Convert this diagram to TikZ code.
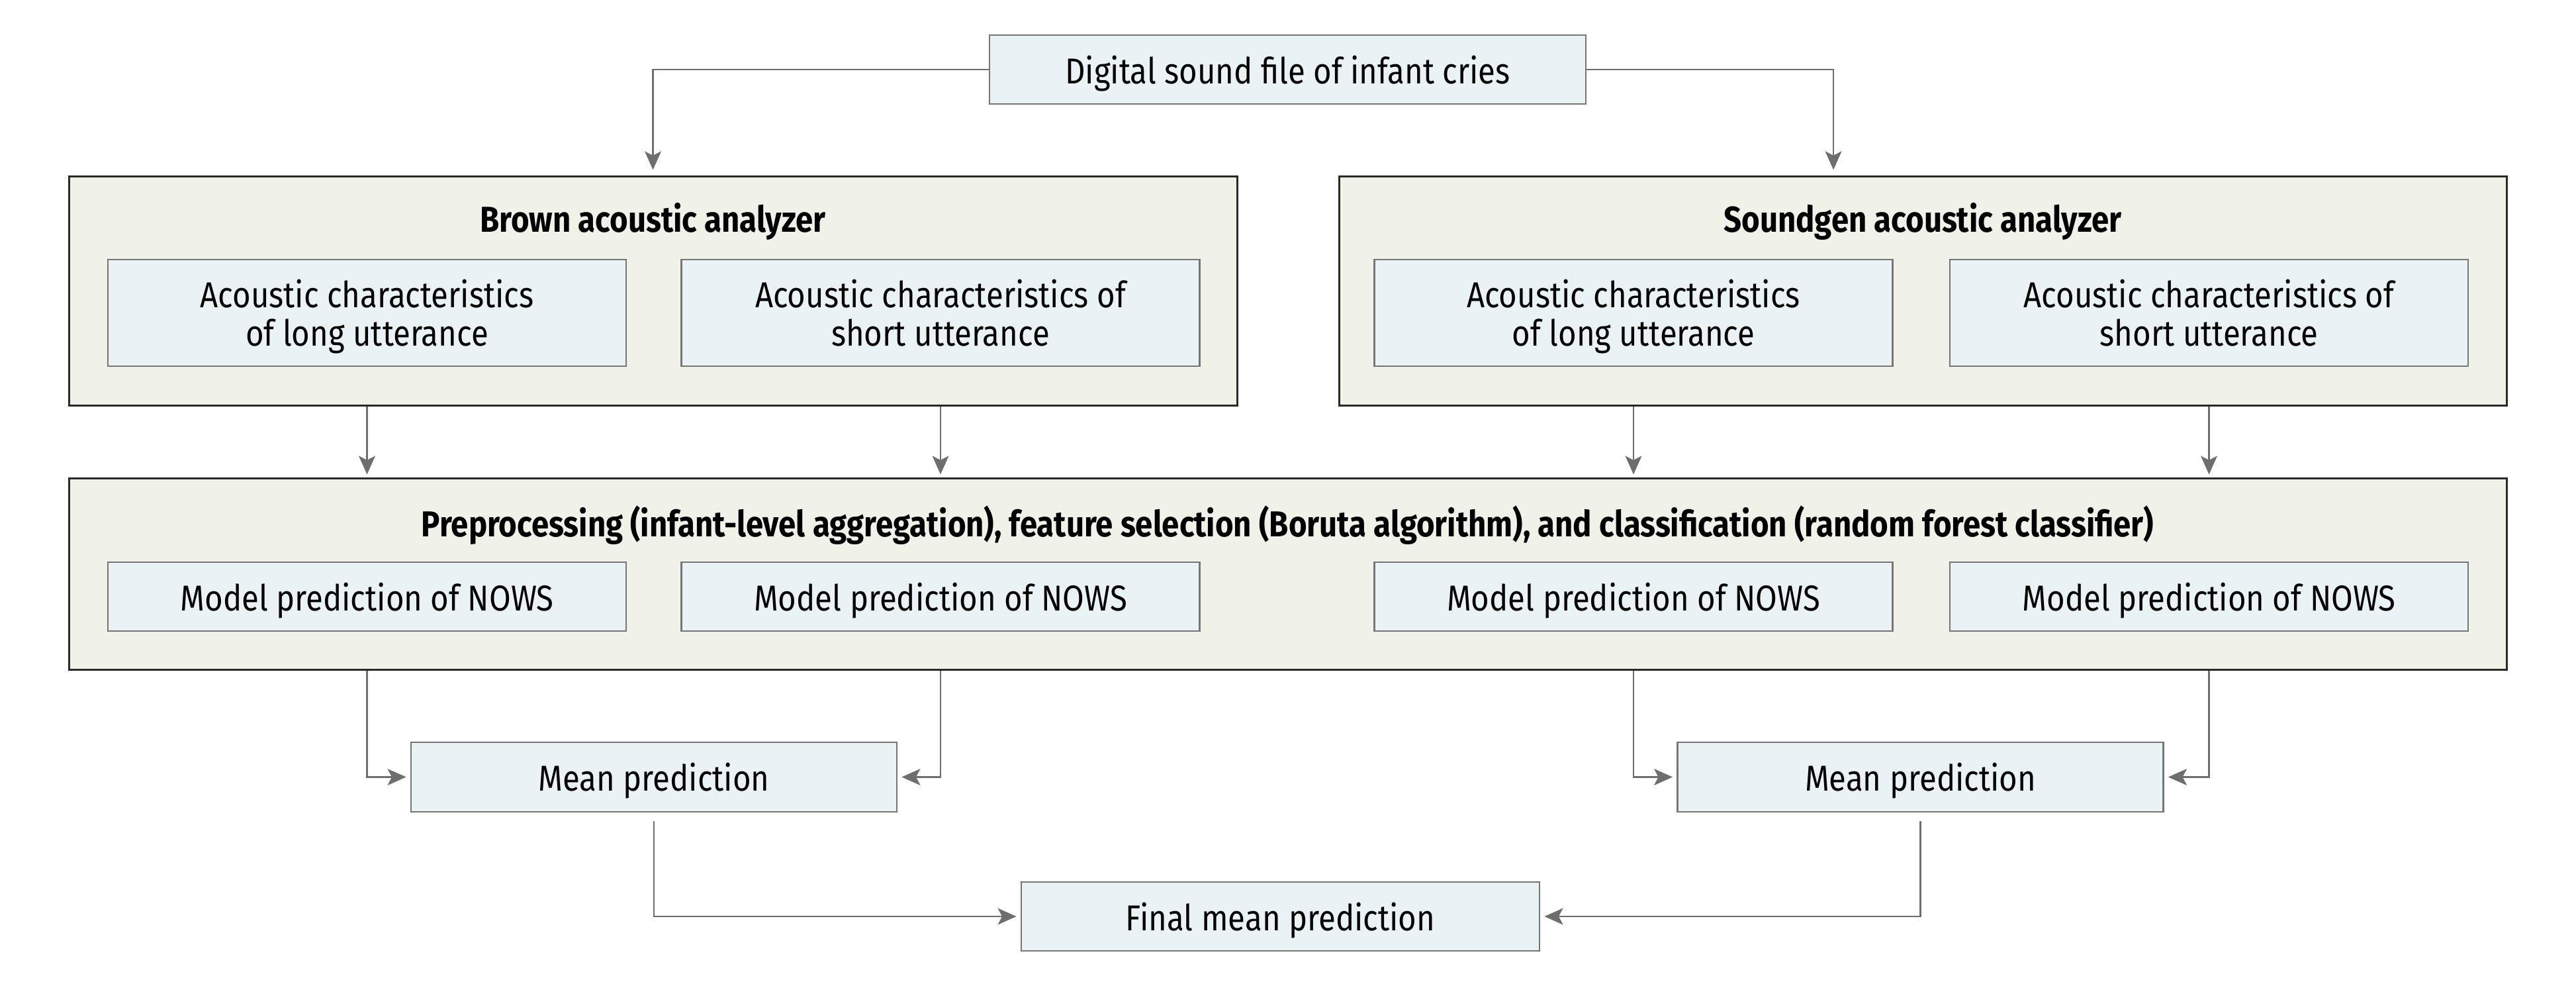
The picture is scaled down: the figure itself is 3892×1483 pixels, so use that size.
\documentclass[tikz,border=0pt]{standalone}
\usepackage{fontspec}
\setmainfont[FakeStretch=0.87]{Fira Sans}
\usetikzlibrary{arrows.meta}
\definecolor{outerfill}{HTML}{F0F1E7}
\definecolor{innerfill}{HTML}{E9F3F5}
\definecolor{innerline}{HTML}{767676}
\definecolor{outerline}{HTML}{2A2A2A}
\definecolor{arrowgray}{HTML}{6E6E6E}
\begin{document}
\begin{tikzpicture}[x=0.25pt,y=-0.25pt,
  outerbox/.style={draw=outerline,fill=outerfill,line width=0.75pt,inner sep=0pt},
  innerbox/.style={draw=innerline,fill=innerfill,line width=0.7pt,inner sep=0pt,align=center,
     text depth=0pt,
     font=\fontsize{13.6}{14.6}\selectfont},
  titletext/.style={inner sep=0pt,yshift=-1pt,font=\fontsize{13.6}{14.6}\selectfont\bfseries},
  conn/.style={draw=arrowgray,line width=0.6pt,-{Stealth[length=7pt,width=6.2pt,inset=1.6pt]}}]
\useasboundingbox (0,0) rectangle (3892,1483);
% top
\node[innerbox,minimum width=225.25pt,minimum height=26pt] (top) at (1945.5,105) {Digital sound file of infant cries};
% analyzers
\node[outerbox,minimum width=441.25pt,minimum height=86.5pt] (brown) at (986.5,440) {};
\node[outerbox,minimum width=441pt,minimum height=86.5pt] (sound) at (2905,440) {};
\node[titletext] (browntitle) at (986.5,330) {Brown acoustic analyzer};
\node[titletext] (soundtitle) at (2905,330) {Soundgen acoustic analyzer};
\node[innerbox,minimum width=195.75pt,minimum height=40.25pt] (bl) at (554.5,472.5) {Acoustic characteristics\\of long utterance};
\node[innerbox,minimum width=195.75pt,minimum height=40.25pt] (bs) at (1421,472.5) {Acoustic characteristics of\\short utterance};
\node[innerbox,minimum width=195.75pt,minimum height=40.25pt] (sl) at (2468,472.5) {Acoustic characteristics\\of long utterance};
\node[innerbox,minimum width=195.75pt,minimum height=40.25pt] (ss) at (3337.5,472.5) {Acoustic characteristics of\\short utterance};
% preprocessing
\node[outerbox,minimum width=920.75pt,minimum height=72.25pt] (pre) at (1945.5,867.5) {};
\node[titletext] (pretitle) at (1945.5,789) {Preprocessing (infant-level aggregation), feature selection (Boruta algorithm), and classification (random forest classifier)};
\node[innerbox,minimum width=195.75pt,minimum height=26pt] (m1) at (554.5,901) {Model prediction of NOWS};
\node[innerbox,minimum width=195.75pt,minimum height=26pt] (m2) at (1421,901) {Model prediction of NOWS};
\node[innerbox,minimum width=195.75pt,minimum height=26pt] (m3) at (2468,901) {Model prediction of NOWS};
\node[innerbox,minimum width=195.75pt,minimum height=26pt] (m4) at (3337.5,901) {Model prediction of NOWS};
% means
\node[innerbox,minimum width=183.5pt,minimum height=26.25pt] (meanL) at (988,1173.5) {Mean prediction};
\node[innerbox,minimum width=183.5pt,minimum height=26.25pt] (meanR) at (2901.5,1173.5) {Mean prediction};
\node[innerbox,minimum width=195.75pt,minimum height=26pt] (final) at (1934.5,1384) {Final mean prediction};
% connectors
\draw[conn,shorten >=2.25pt] (top.west) -| (brown.north);
\draw[conn,shorten >=2.25pt] (top.east) -| ([xshift=-33.75pt]sound.north);
\foreach \n in {bl,bs,sl,ss}{
  \draw[conn,shorten >=1.25pt] (\n.south |- brown.south) -- (\n.south |- pre.north);
}
\draw[conn,shorten >=1.5pt] (m1.south |- pre.south) |- (meanL.west);
\draw[conn,shorten >=1.5pt] (m2.south |- pre.south) |- (meanL.east);
\draw[conn,shorten >=1.5pt] (m3.south |- pre.south) |- (meanR.west);
\draw[conn,shorten >=1.5pt] (m4.south |- pre.south) |- (meanR.east);
\draw[conn,shorten <=3.25pt,shorten >=1.5pt] (meanL.south) |- (final.west);
\draw[conn,shorten <=3.25pt,shorten >=1.5pt] (meanR.south) |- (final.east);
\end{tikzpicture}
\end{document}
